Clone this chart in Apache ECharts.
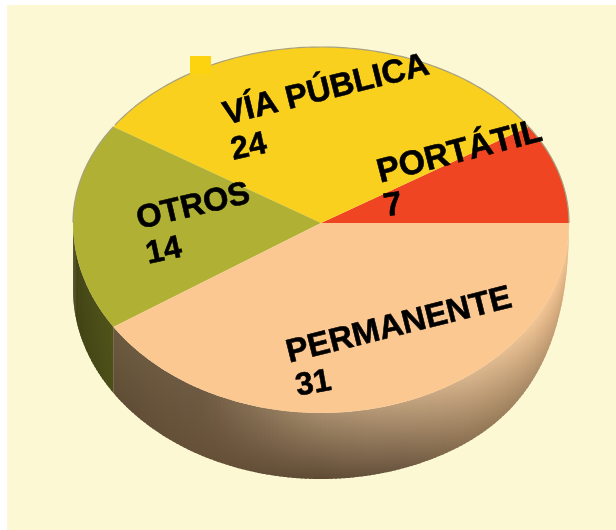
<!DOCTYPE html>
<html>
<head>
<meta charset="utf-8">
<style>
html, body { margin: 0; padding: 0; background: #fff; }
#main { width: 616px; height: 530px; }
</style>
<script src="https://cdn.jsdelivr.net/npm/echarts@6/dist/echarts.min.js"></script>
</head>
<body>
<div id="main"></div>
<script>
// datos de la torta
const categories = ['PORTÁTIL', 'VÍA PÚBLICA', 'OTROS', 'PERMANENTE'];
const values = [7, 24, 14, 31];

const faceColors = ['#f04522', '#f9d01e', '#b0b035', '#fbc892'];
const labelPos = [
    { name: [381, 186, 14.5, 33.8], value: [386, 220, 9, 33] },
    { name: [227, 128, 14, 33], value: [234, 163, 12, 32] },
    { name: [140, 232, 13.4, 32.5], value: [149, 267, 12, 32] },
    { name: [290, 366, 14, 33], value: [298, 399, 10, 32] }
];

// elipse de la cara superior
const cx = 321, cy = 223, rx = 248, ryTop = 176, ryBottom = 190, wallDepth = 66;

// color del lateral: [angulo, arriba, abajo]
const wallStops = [
    [180, '#3d3e14', '#3b3c12'],
    [213, '#50541a', '#4b4e17'],
    [213.01, '#6b5a40', '#5f4c35'],
    [241, '#6e5a42', '#665038'],
    [270, '#a68c6c', '#5e4a34'],
    [289, '#c0a17c', '#6b5640'],
    [306, '#d9b68e', '#8a7050'],
    [329, '#f6c998', '#a98a66'],
    [340, '#f9c897', '#c09a70'],
    [360, '#fbc892', '#e8bb88']
];

const total = values.reduce((a, b) => a + b, 0);

function facePoint (deg) {
    const rad = deg * Math.PI / 180;
    const ry = deg % 360 <= 180 ? ryTop : ryBottom;
    return [cx + rx * Math.cos(rad), cy - ry * Math.sin(rad)];
}

// el lateral se angosta hacia la derecha, como en la imagen
function depthAt (deg) {
    const t = Math.min(1, Math.max(0, 360 - deg) / 62);
    return wallDepth * (1 - Math.pow(1 - t, 3));
}

function wallColors (deg) {
    for (let i = 1; i < wallStops.length; i++) {
        const a = wallStops[i - 1], b = wallStops[i];
        if (deg <= b[0]) {
            const t = (deg - a[0]) / (b[0] - a[0]);
            return [
                echarts.color.lerp(t, [a[1], b[1]]),
                echarts.color.lerp(t, [a[2], b[2]])
            ];
        }
    }
    return wallStops[wallStops.length - 1].slice(1);
}

function sliceRange (index) {
    let sum = 0;
    for (let i = 0; i < index; i++) {
        sum += values[i];
    }
    return [sum / total * 360, (sum + values[index]) / total * 360];
}

function renderSlice (params, api) {
    const range = sliceRange(params.dataIndex);
    const children = [];

    // lateral en tiras finas
    for (let a = Math.max(range[0], 180); a < range[1]; a += 1) {
        const end = Math.min(a + 1.6, range[1]);
        const p0 = facePoint(a), p1 = facePoint(end);
        const d0 = depthAt(a), d1 = depthAt(end);
        const colors = wallColors(a + 0.5);
        const low = Math.max(p0[1] + d0, p1[1] + d1);
        const high = Math.min(p0[1], p1[1]);
        children.push({
            type: 'polygon',
            z2: 1,
            shape: { points: [p0, p1, [p1[0], p1[1] + d1], [p0[0], p0[1] + d0]] },
            style: {
                fill: new echarts.graphic.LinearGradient(0, high, 0, low, [
                    { offset: 0, color: colors[0] },
                    { offset: 1, color: colors[1] }
                ], true)
            }
        });
    }

    // cara superior
    const face = [[cx, cy]];
    for (let a = range[0]; a < range[1]; a += 1) {
        face.push(facePoint(a));
    }
    face.push(facePoint(range[1]));
    children.push({
        type: 'polygon',
        z2: 2,
        shape: { points: face },
        style: { fill: faceColors[params.dataIndex] }
    });

    // borde gris de arriba
    const edge = [];
    for (let a = range[0]; a <= Math.min(range[1], 180); a += 1) {
        edge.push(facePoint(a));
    }
    if (edge.length > 1) {
        children.push({
            type: 'polyline',
            z2: 3,
            shape: { points: edge },
            style: { fill: null, stroke: '#a8a180', lineWidth: 1.2 }
        });
    }

    return { type: 'group', children: children };
}

function labelEl (text, pos) {
    return {
        type: 'text',
        x: pos[0],
        y: pos[1],
        rotation: pos[2] * Math.PI / 180,
        z2: 10,
        style: {
            text: text,
            x: 0,
            y: -pos[3] * 0.88,
            fill: '#000',
            stroke: '#000',
            lineWidth: 0.6,
            font: 'bold ' + pos[3] + 'px "Liberation Sans", Arial, sans-serif',
            textAlign: 'left',
            textBaseline: 'top'
        }
    };
}

function renderLabel (params, api) {
    const pos = labelPos[params.dataIndex];
    return {
        type: 'group',
        children: [
            labelEl(categories[params.dataIndex], pos.name),
            labelEl(String(api.value(0)), pos.value)
        ]
    };
}

const myChart = echarts.init(document.getElementById('main'));
myChart.setOption({
    animation: false,
    backgroundColor: '#fff',
    graphic: [
        {
            type: 'rect',
            z: -1,
            shape: { x: 7, y: 5, width: 609, height: 525 },
            style: { fill: '#fbf8d3' }
        },
        {
            type: 'rect',
            z: 5,
            shape: { x: 190, y: 56, width: 21, height: 18 },
            style: { fill: '#fdd30f' }
        }
    ],
    series: [
        {
            type: 'custom',
            coordinateSystem: 'none',
            z: 2,
            silent: true,
            renderItem: renderSlice,
            data: values.map((v) => [v])
        },
        {
            type: 'custom',
            coordinateSystem: 'none',
            z: 6,
            silent: true,
            renderItem: renderLabel,
            data: values.map((v) => [v])
        }
    ]
});
</script>
</body>
</html>
